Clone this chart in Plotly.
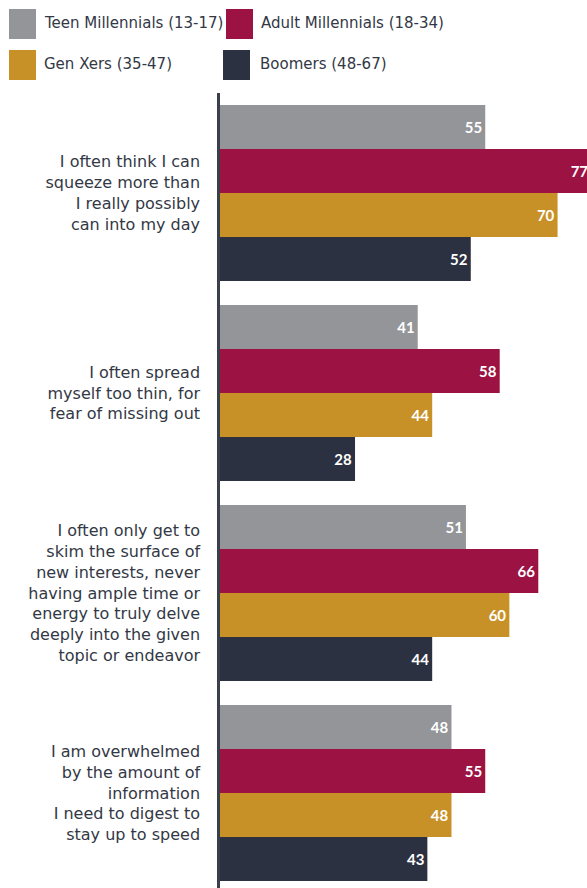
import plotly.graph_objects as go

# Survey statements (one group of bars each)
statements = [
    "I often think I can<br>squeeze more than<br>I really possibly<br>can into my day",
    "I often spread<br>myself too thin, for<br>fear of missing out",
    "I often only get to<br>skim the surface of<br>new interests, never<br>having ample time or<br>energy to truly delve<br>deeply into the given<br>topic or endeavor",
    "I am overwhelmed<br>by the amount of<br>information<br>I need to digest to<br>stay up to speed",
]

# Generations and their agreement percentages per statement
generations = [
    "Teen Millennials (13-17)",
    "Adult Millennials (18-34)",
    "Gen Xers (35-47)",
    "Boomers (48-67)",
]
teen_millennials = [55, 41, 51, 48]
adult_millennials = [77, 58, 66, 55]
gen_xers = [70, 44, 60, 48]
boomers = [52, 28, 44, 43]

colors = ["#939598", "#9B1243", "#C89128", "#2B3140"]

W, H = 587, 888
M_L, M_T = 220, 93
plot_w = W - M_L
plot_h = H - M_T

fig = go.Figure()
for name, vals, col in zip(generations,
                           [teen_millennials, adult_millennials, gen_xers, boomers],
                           colors):
    fig.add_trace(go.Bar(
        y=statements, x=vals, name=name, orientation="h",
        marker=dict(color=col, line=dict(width=0)),
        text=[str(v) for v in vals],
        textposition="inside", insidetextanchor="end",
        textfont=dict(family="Lato, 'Open Sans', sans-serif", size=15,
                      color="white", weight="bold"),
        cliponaxis=True, showlegend=False,
    ))


def px_x(px):
    return (px - M_L) / plot_w


def px_y(py):
    return (H - py) / plot_h


# Legend: large colour squares with labels, two per row
legend_pos = [(9, 9, 42), (226, 9, 259), (9, 50, 42), (223, 50, 258)]
label_font = "'DejaVu Sans', Tahoma, sans-serif"
text_color = "#333845"
shapes, annotations = [], []
for (sx, sy, tx), name, col in zip(legend_pos, generations, colors):
    shapes.append(dict(type="rect", xref="paper", yref="paper",
                       x0=px_x(sx), x1=px_x(sx + 27),
                       y0=px_y(sy + 30), y1=px_y(sy),
                       fillcolor=col, line=dict(width=0)))
    annotations.append(dict(xref="paper", yref="paper",
                            x=px_x(tx), y=px_y(sy + 14),
                            text=name, showarrow=False,
                            xanchor="left", yanchor="middle",
                            font=dict(family=label_font, size=15, color=text_color)))

fig.update_layout(
    width=W, height=H,
    margin=dict(l=M_L, r=0, t=M_T, b=0),
    paper_bgcolor="white", plot_bgcolor="white",
    barmode="group", bargap=0.12, bargroupgap=0,
    shapes=shapes, annotations=annotations,
    xaxis=dict(range=[0, 76.1], visible=False, fixedrange=True),
    yaxis=dict(
        type="category",
        range=[-0.5 + plot_h / 200, -0.5],
        showline=True, linecolor="#3B3F4A", linewidth=2.5,
        showgrid=False, zeroline=False, ticks="",
        ticklabelstandoff=14,
        tickfont=dict(family=label_font, size=16, color=text_color),
    ),
)

fig.write_html("out.html")
